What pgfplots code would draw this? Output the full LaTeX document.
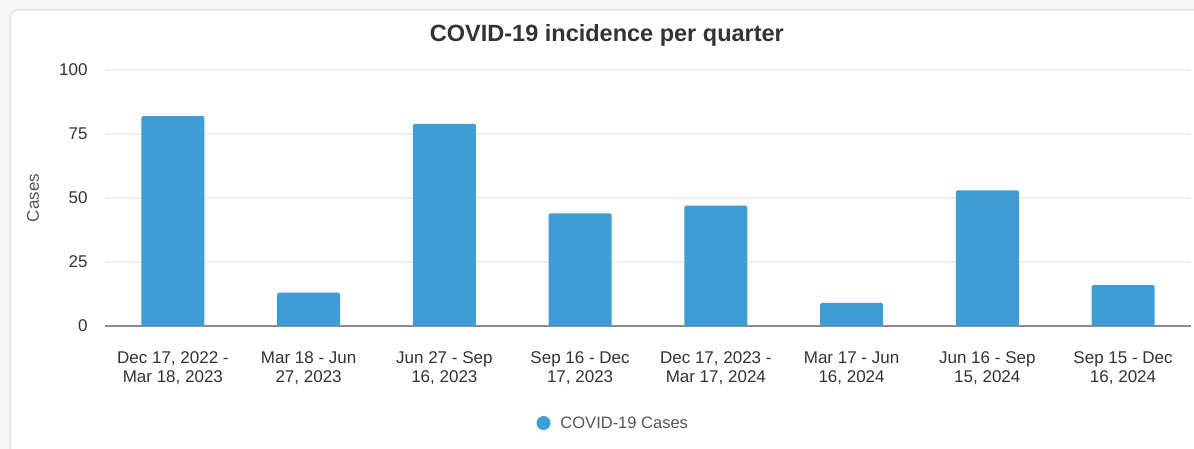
\documentclass[border=0pt]{standalone}
\usepackage{pgfplots}
\pgfplotsset{compat=1.18}
\usepackage{fontspec}
\setmainfont{Liberation Sans}

\definecolor{barblue}{HTML}{3F9DD5}
\definecolor{gridgray}{HTML}{EEEEEE}
\definecolor{bgout}{HTML}{F7F7F7}
\definecolor{cardedge}{HTML}{E4E4E4}
\definecolor{txt}{HTML}{333333}
\definecolor{labtxt}{HTML}{555555}
\definecolor{axisgray}{HTML}{8C8C8C}

\begin{document}
\begin{tikzpicture}
    \useasboundingbox (0,0) rectangle (1194pt,449pt);
    \fill[bgout] (0,0) rectangle (1194pt,449pt);
    \filldraw[fill=white, draw=cardedge, line width=1.5pt, rounded corners=8pt]
        (10pt,-20pt) rectangle (1220pt,439pt);
    \begin{axis}[
        at={(105pt,123pt)}, anchor=south west,
        scale only axis, width=1086pt, height=256pt,
        xmin=-0.5, xmax=7.5, ymin=0, ymax=100,
        xtick={0,...,7},
        xticklabels={
            {Dec 17, 2022 -\\Mar 18, 2023},
            {Mar 18 - Jun\\27, 2023},
            {Jun 27 - Sep\\16, 2023},
            {Sep 16 - Dec\\17, 2023},
            {Dec 17, 2023 -\\Mar 17, 2024},
            {Mar 17 - Jun\\16, 2024},
            {Jun 16 - Sep\\15, 2024},
            {Sep 15 - Dec\\16, 2024}},
        ytick={0,25,50,75,100},
        axis lines=left, axis line style={-},
        y axis line style={draw=none},
        x axis line style={axisgray, line width=1.5pt},
        major tick length=0pt,
        ymajorgrids, grid style={gridgray, line width=1.8pt},
        /pgf/number format/assume math mode=true,
        ticklabel style={font=\fontsize{17}{19.5}\selectfont, text=txt},
        xticklabel style={align=center, yshift=-22pt},
        yticklabel style={xshift=-14pt},
        ylabel={Cases},
        ylabel style={at={(axis description cs:-0.0663,0.5)}, anchor=center,
            font=\fontsize{17}{18}\selectfont, text=labtxt},
        title={\textbf{COVID-19 incidence per quarter}},
        title style={at={(axis description cs:0.4622,1.111)}, anchor=center,
            font=\fontsize{23.5}{26}\selectfont, text=txt},
        legend style={at={(axis description cs:0.468,-0.379)}, anchor=center,
            draw=none, fill=none, font=\fontsize{16.5}{18}\selectfont, text=labtxt},
    ]
    \addplot[ybar, bar width=63pt, fill=barblue, draw=none, rounded corners=1.5pt,
        legend image code/.code={\fill[barblue] (0pt,0pt) circle (7pt); \path (15pt,0pt);}]
    coordinates {
        (0,82) (1,13) (2,79) (3,44) (4,47) (5,9) (6,53) (7,16)
    };
    \addlegendentry{COVID-19 Cases}
    \end{axis}
\end{tikzpicture}
\end{document}
